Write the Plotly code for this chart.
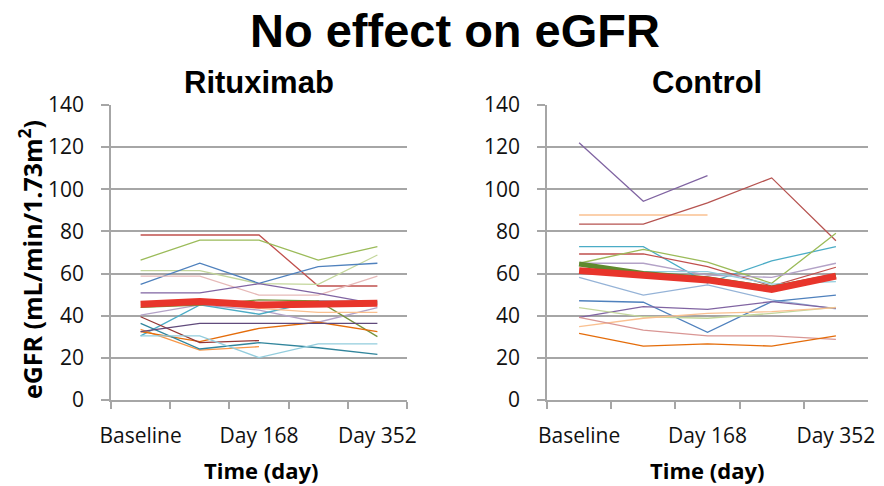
import plotly.graph_objects as go

# ---- data ----
categories = ["Baseline", "Day 84", "Day 168", "Day 252", "Day 352"]
tick_text = ["Baseline", "", "Day 168", "", "Day 352"]

# Rituximab group: individual patients (None = missing)
ritux_series = {
    "R1": [78.3, 78.3, 78.3, 54.1, 54.1],
    "R2": [66.4, 75.9, 75.9, 66.4, 72.8],
    "R3": [61.4, 61.4, 55.2, 54.9, 68.8],
    "R4": [54.9, 64.9, 55.4, 63.3, 64.9],
    "R5": [58.8, 58.8, 49.8, 49.8, 58.8],
    "R6": [50.8, 50.8, 55.2, 50.6, 45.5],
    "R7": [40.3, 45.1, 42.7, 36.9, 43.8],
    "R8": [30.4, 45.1, 40.7, 47.0, 46.5],
    "R9": [44.0, 45.0, 47.5, 47.0, 30.1],
    "R10": [45.0, 46.0, 43.5, 41.6, 41.6],
    "R11": [33.5, 23.7, 25.3, None, None],
    "R12": [32.5, 27.7, 34.0, 36.9, 32.4],
    "R13": [39.5, 27.2, 28.2, None, None],
    "R14": [36.4, 24.2, 27.2, 24.8, 21.7],
    "R15": [30.4, 30.4, 20.1, 26.6, 26.6],
    "R16": [32.4, 36.4, 36.4, 36.4, 36.4],
}
ritux_colors = ["#C0504D", "#9BBB59", "#C3D69B", "#4F81BD", "#E6B9B8", "#8064A2",
                "#B3A2C7", "#4BACC6", "#77933C", "#FAC090", "#F79646", "#E46C0A",
                "#953735", "#31859C", "#93CDDD", "#604A7B"]
ritux_mean = [45.4, 46.7, 45.1, 45.5, 45.9]

# Control group
control_series = {
    "C1": [122.1, 94.3, 106.5, None, None],
    "C2": [87.8, 87.8, 87.8, None, None],
    "C3": [83.5, 83.5, 93.5, 105.4, 75.6],
    "C4": [72.8, 72.8, 55.5, 66.0, 72.8],
    "C5": [69.3, 69.3, 63.3, 54.1, 63.0],
    "C6": [64.9, 71.5, 65.4, 55.4, 79.1],
    "C7": [64.9, 64.9, 59.3, 58.2, 64.9],
    "C8": [60.0, 60.9, 60.9, 55.0, 56.2],
    "C9": [58.2, 49.8, 54.6, 47.5, 43.2],
    "C10": [47.1, 46.4, 32.1, 46.7, 49.8],
    "C11": [39.2, 44.3, 43.0, 46.7, 43.5],
    "C12": [43.8, 39.5, 38.8, 41.1, 44.0],
    "C13": [34.8, 38.8, 41.1, 41.9, 43.8],
    "C14": [39.2, 33.2, 30.4, 30.4, 28.8],
    "C15": [31.6, 25.6, 26.6, 25.6, 30.4],
}
control_colors = ["#8064A2", "#FAC090", "#B65350", "#4BACC6", "#C0504D", "#9BBB59",
                  "#B3A2C7", "#93CDDD", "#95B3D7", "#4F81BD", "#8064A2", "#C3D69B",
                  "#FAC090", "#D99694", "#E46C0A"]
control_green = [64.5, 60.0, 57.5, 53.0, 59.0]
control_mean = [61.4, 59.2, 57.0, 52.5, 58.8]

yticks = [0, 20, 40, 60, 80, 100, 120, 140]

# ---- figure ----
fig = go.Figure()

for (name, vals), col in zip(ritux_series.items(), ritux_colors):
    fig.add_trace(go.Scatter(x=categories, y=vals, mode="lines", name=name,
                             line=dict(color=col, width=1.3), connectgaps=False,
                             xaxis="x", yaxis="y", showlegend=False))
fig.add_trace(go.Scatter(x=categories, y=ritux_mean, mode="lines", name="Mean",
                         line=dict(color="#E8352B", width=7),
                         xaxis="x", yaxis="y", showlegend=False))

for (name, vals), col in zip(control_series.items(), control_colors):
    fig.add_trace(go.Scatter(x=categories, y=vals, mode="lines", name=name,
                             line=dict(color=col, width=1.3), connectgaps=False,
                             xaxis="x2", yaxis="y2", showlegend=False))
fig.add_trace(go.Scatter(x=categories, y=control_green, mode="lines", name="C16",
                         line=dict(color="#5F8A2E", width=5),
                         xaxis="x2", yaxis="y2", showlegend=False))
fig.add_trace(go.Scatter(x=categories, y=control_mean, mode="lines", name="Mean",
                         line=dict(color="#E8352B", width=7),
                         xaxis="x2", yaxis="y2", showlegend=False))

grid_col = "#A6A6A6"
tick_font = dict(family="Open Sans, Lato, sans-serif", size=21, color="#111111")

xaxis_common = dict(
    type="category", categoryorder="array", categoryarray=categories,
    tickmode="array", tickvals=categories, ticktext=tick_text, tickangle=0,
    tickson="boundaries", ticks="outside", ticklen=7, tickwidth=1.5, tickcolor=grid_col,
    showline=True, linecolor=grid_col, linewidth=1.5, showgrid=False,
    tickfont=tick_font, range=[-0.5, 4.5], fixedrange=True, automargin=False,
    ticklabelstandoff=16,
)
yaxis_common = dict(
    range=[0, 140], tickvals=yticks, ticks="outside", ticklen=8, tickwidth=1.5,
    tickcolor=grid_col, showline=True, linecolor=grid_col, linewidth=1.5,
    showgrid=True, gridcolor=grid_col, gridwidth=1.5, zeroline=False,
    tickfont=tick_font, ticklabelstandoff=13, automargin=False,
)

W, H = 884, 486
y_dom = [1 - 400 / H, 1 - 105 / H]

fig.update_layout(
    width=W, height=H,
    margin=dict(l=0, r=0, t=0, b=0),
    paper_bgcolor="white", plot_bgcolor="white",
    xaxis=dict(domain=[111 / W, 407 / W], anchor="y", **xaxis_common),
    yaxis=dict(domain=y_dom, anchor="x", **yaxis_common),
    xaxis2=dict(domain=[547 / W, 868 / W], anchor="y2", **xaxis_common),
    yaxis2=dict(domain=y_dom, anchor="x2", **yaxis_common),
    showlegend=False,
)

title_font = "Arial, Liberation Sans, sans-serif"
label_font = "Open Sans, Lato, sans-serif"
annots = [
    dict(text="<b>No effect on eGFR</b>", x=455 / W, y=1 - 30 / H,
         font=dict(family=title_font, size=47, color="black")),
    dict(text="<b>Rituximab</b>", x=259 / W, y=1 - 83 / H,
         font=dict(family=title_font, size=31, color="black")),
    dict(text="<b>Control</b>", x=707 / W, y=1 - 83 / H,
         font=dict(family=title_font, size=31, color="black")),
    dict(text="<b>Time (day)</b>", x=261 / W, y=1 - 470 / H,
         font=dict(family=label_font, size=22, color="black")),
    dict(text="<b>Time (day)</b>", x=707 / W, y=1 - 470 / H,
         font=dict(family=label_font, size=22, color="black")),
    dict(text="<b>eGFR (mL/min/1.73m<sup>2</sup>)</b>", x=30 / W, y=1 - 260 / H,
         textangle=-90, font=dict(family=label_font, size=25, color="black")),
]
for a in annots:
    fig.add_annotation(xref="paper", yref="paper", showarrow=False,
                       xanchor="center", yanchor="middle", **a)

fig.write_html("out.html")
